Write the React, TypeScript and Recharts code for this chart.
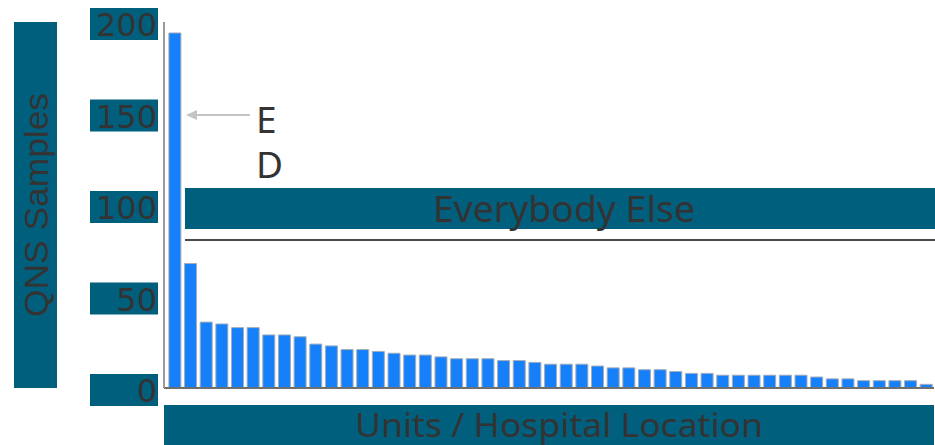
import { BarChart, Bar, XAxis, YAxis } from 'recharts';

const TEAL = '#015f7e';
const INK = '#333333';

// QNS sample counts per unit, sorted high to low (first unit is the ED)
const samples = [
  194, 68, 36, 35, 33, 33, 29, 29, 28, 24,
  23, 21, 21, 20, 19, 18, 18, 17, 16, 16,
  16, 15, 15, 14, 13, 13, 13, 12, 11, 11,
  10, 10, 9, 8, 8, 7, 7, 7, 7, 7,
  7, 6, 5, 5, 4, 4, 4, 4, 2,
];
const units = samples.map((_, i) => (i === 0 ? 'ED' : `Unit ${i + 1}`));
const yTicks = [0, 50, 100, 150, 200];

const rows = units.map((unit, i) => ({ unit, qns: samples[i] }));

const TickBox = (props: any) => {
  const { y, payload } = props;
  return (
    <g>
      <rect x={90} y={y - 14} width={68} height={32} fill={TEAL} />
      <text x={157} y={y + 14} textAnchor="end" fontSize={32} fill={INK} fontFamily="DejaVu Sans">
        {payload.value}
      </text>
    </g>
  );
};

const YTitle = (props: any) => {
  const { viewBox } = props;
  const cy = viewBox.y + viewBox.height / 2;
  return (
    <g>
      <rect x={14} y={viewBox.y} width={43} height={viewBox.height} fill={TEAL} />
      <text
        x={36}
        y={cy}
        transform={`rotate(-90 36 ${cy})`}
        textAnchor="middle"
        dominantBaseline="central"
        fontSize={34}
        fill={INK}
        fontFamily="Liberation Sans"
        textLength={224}
        lengthAdjust="spacingAndGlyphs"
      >
        QNS Samples
      </text>
    </g>
  );
};

const XTitle = (props: any) => {
  const { viewBox } = props;
  const cx = viewBox.x + viewBox.width / 2;
  return (
    <g>
      <rect x={viewBox.x} y={viewBox.y + 17} width={viewBox.width} height={40} fill={TEAL} />
      <text
        x={cx + 10}
        y={viewBox.y + 49}
        textAnchor="middle"
        fontSize={33}
        fill={INK}
        fontFamily="Noto Sans"
        textLength={408}
        lengthAdjust="spacingAndGlyphs"
      >
        Units / Hospital Location
      </text>
    </g>
  );
};

export default function App() {
  return (
    <div style={{ position: 'absolute', left: 0, top: 0, width: 935, height: 445, background: '#fff' }}>
      <BarChart
        width={935}
        height={445}
        data={rows}
        margin={{ top: 22, right: 1, bottom: 0, left: 0 }}
        barCategoryGap="12%"
      >
        <XAxis
          dataKey="unit"
          height={57}
          padding={{ left: 3, right: 0 }}
          tick={false}
          tickLine={false}
          axisLine={{ stroke: '#6f6f6f', strokeWidth: 2 }}
          label={<XTitle />}
        />
        <YAxis
          domain={[0, 200]}
          ticks={yTicks}
          width={164}
          tickLine={false}
          axisLine={{ stroke: '#9a9a9a', strokeWidth: 2 }}
          tick={<TickBox />}
          label={<YTitle />}
        />
        <Bar dataKey="qns" fill="#1580fa" stroke="#a3adbb" strokeWidth={1} isAnimationActive={false} />
      </BarChart>

      {/* callout for the ED bar and the "everybody else" band */}
      <svg width={935} height={445} style={{ position: 'absolute', left: 0, top: 0, pointerEvents: 'none' }}>
        <line x1={250} y1={115} x2={196} y2={115} stroke="#c4c4c4" strokeWidth={2} />
        <polygon points="186,115 197,110 197,120" fill="#c4c4c4" />
        <text x={256} y={133} fontSize={37} fill={INK} fontFamily="Noto Sans">E</text>
        <text x={256} y={178} fontSize={37} fill={INK} fontFamily="Noto Sans">D</text>
        <rect x={185} y={188} width={750} height={41} fill={TEAL} />
        <text
          x={564}
          y={222}
          textAnchor="middle"
          fontSize={36}
          fill={INK}
          fontFamily="Noto Sans"
          textLength={262}
          lengthAdjust="spacingAndGlyphs"
        >
          Everybody Else
        </text>
        <line x1={185} y1={240} x2={935} y2={240} stroke="#4a4a4a" strokeWidth={2} />
      </svg>
    </div>
  );
}
